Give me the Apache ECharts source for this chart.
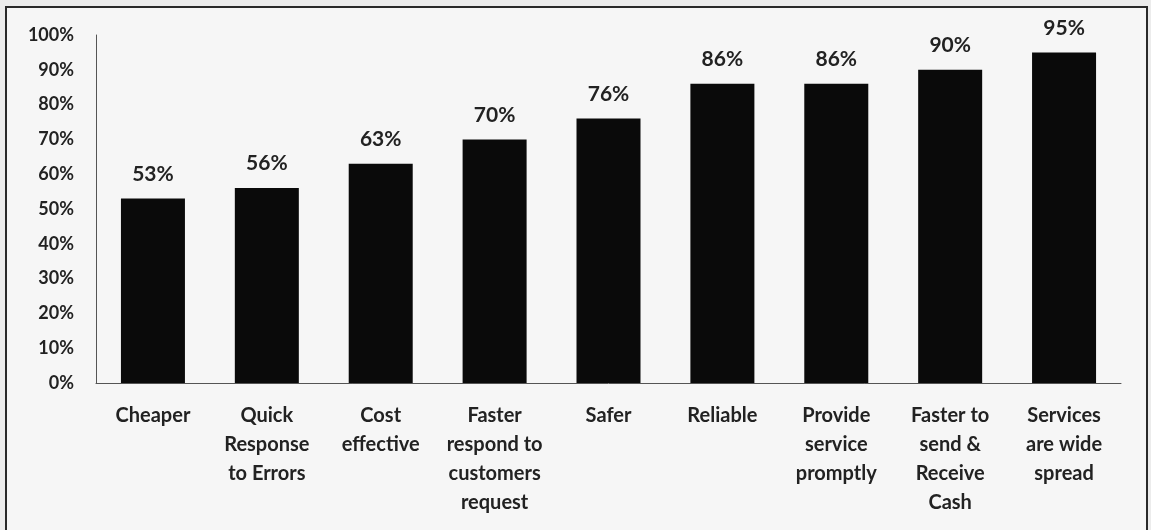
<!DOCTYPE html>
<html>
<head>
<meta charset="utf-8">
<script src="https://cdn.jsdelivr.net/npm/echarts@6/dist/echarts.min.js"></script>
<style>
  html, body { margin: 0; padding: 0; background: #ececec; }
  #chart { width: 1151px; height: 530px; }
</style>
</head>
<body>
<div id="chart"></div>
<script>
// Reasons given for preferring the service (share of respondents, %)
const categories = [
  'Cheaper',
  'Quick\nResponse\nto Errors',
  'Cost\neffective',
  'Faster\nrespond to\ncustomers\nrequest',
  'Safer',
  'Reliable',
  'Provide\nservice\npromptly',
  'Faster to\nsend &\nReceive\nCash',
  'Services\nare wide\nspread'
];
const values = [53, 56, 63, 70, 76, 86, 86, 90, 95];
const yTicks = { min: 0, max: 100, interval: 10 };

const font = 'Lato, "Open Sans", sans-serif';
const textColor = '#222';

const chart = echarts.init(document.getElementById('chart'), null, { renderer: 'canvas' });
chart.setOption({
  backgroundColor: '#ececec',
  animation: false,
  graphic: [{
    type: 'rect',
    z: -10,
    shape: { x: 6, y: 7, width: 1141, height: 540 },
    style: { fill: '#f6f6f6', stroke: '#2a2a2a', lineWidth: 2 }
  }],
  grid: { left: 96, right: 30, top: 35, bottom: 147, containLabel: false },
  xAxis: {
    type: 'category',
    data: categories,
    axisLine: { show: true, lineStyle: { color: '#555', width: 1 } },
    axisTick: { show: false },
    axisLabel: {
      interval: 0,
      margin: 18,
      color: textColor,
      fontFamily: font,
      fontWeight: 'bold',
      fontSize: 20,
      lineHeight: 29
    }
  },
  yAxis: {
    type: 'value',
    min: yTicks.min,
    max: yTicks.max,
    interval: yTicks.interval,
    splitLine: { show: false },
    axisLine: { show: true, lineStyle: { color: '#555', width: 1 } },
    axisTick: { show: false },
    axisLabel: {
      margin: 22,
      color: textColor,
      fontFamily: font,
      fontWeight: 'bold',
      fontSize: 18,
      formatter: v => v + '%'
    }
  },
  series: [{
    type: 'bar',
    data: values,
    barWidth: 64,
    itemStyle: { color: '#0a0a0a' },
    label: {
      show: true,
      position: 'top',
      distance: 14,
      color: textColor,
      fontFamily: font,
      fontWeight: 'bold',
      fontSize: 21,
      formatter: p => p.value + '%'
    }
  }]
});
</script>
</body>
</html>
